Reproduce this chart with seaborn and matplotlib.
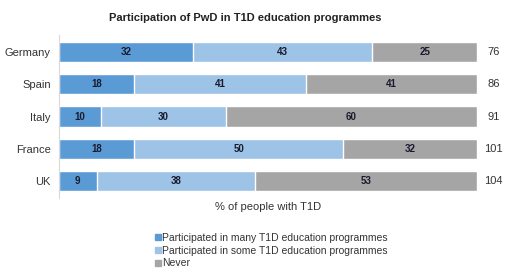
import matplotlib
matplotlib.use("Agg")
import matplotlib.pyplot as plt
from matplotlib.lines import Line2D
import seaborn as sns
import pandas as pd
import numpy as np

# Data
countries = ["Germany", "Spain", "Italy", "France", "UK"]
many = [32, 18, 10, 18, 9]
some = [43, 41, 30, 50, 38]
never = [25, 41, 60, 32, 53]
n_resp = [76, 86, 91, 101, 104]
series_names = ["Participated in many T1D education programmes",
                "Participated in some T1D education programmes",
                "Never"]
colors = ["#5B9BD5", "#9DC3E6", "#A5A5A5"]

sns.set_theme(style="white")
plt.rcParams['font.family'] = ['Liberation Sans', 'DejaVu Sans']

df = pd.DataFrame({"country": countries, "many": many, "some": some, "never": never})
df["c1"] = df["many"]
df["c2"] = df["many"] + df["some"]
df["c3"] = df["c2"] + df["never"]

fig = plt.figure(figsize=(5.2, 2.79), dpi=100)
ax = fig.add_axes([0.1135, 0.29, 0.8035, 0.5846])

# stacked by overdrawing cumulative totals
sns.barplot(data=df, x="c3", y="country", orient="h", color=colors[2], width=0.63,
            saturation=1, ax=ax)
sns.barplot(data=df, x="c2", y="country", orient="h", color=colors[1], width=0.63,
            saturation=1, ax=ax)
sns.barplot(data=df, x="c1", y="country", orient="h", color=colors[0], width=0.63,
            saturation=1, ax=ax)

# segment labels
for i, row in df.iterrows():
    starts = [0, row["c1"], row["c2"]]
    vals = [row["many"], row["some"], row["never"]]
    for s, v in zip(starts, vals):
        ax.text(s + v / 2, i, str(v), ha="center", va="center", fontsize=7,
                fontweight="bold", color="#1a1a2e")
    ax.text(104, i, str(n_resp[i]), ha="center", va="center", fontsize=8,
            color="#333333", clip_on=False)

ax.set_xlim(0, 100)
ax.set_ylim(4.52, -0.52)
ax.set_xticks([])
ax.set_ylabel("")
ax.set_xlabel("% of people with T1D", fontsize=8, color="#333333", labelpad=3)
ax.tick_params(axis="y", labelsize=8, colors="#333333", length=0, pad=6)
for side in ["top", "right", "bottom"]:
    ax.spines[side].set_visible(False)
ax.spines["left"].set_color("#D9D9D9")
ax.spines["left"].set_linewidth(0.8)

fig.text(0.471, 0.935, "Participation of PwD in T1D education programmes",
         ha="center", va="center", fontsize=8, fontweight="bold", color="#222222")

handles = [Line2D([0], [0], marker="s", linestyle="", markersize=4,
                  markerfacecolor=c, markeredgecolor=c) for c in colors]
fig.legend(handles, series_names, loc="upper left", bbox_to_anchor=(0.298, 0.165),
           frameon=False, fontsize=7.5, handlelength=0.6, handletextpad=0.1,
           labelspacing=0.25, borderpad=0, borderaxespad=0, labelcolor="#333333")

fig.savefig("out.png", dpi=100)
